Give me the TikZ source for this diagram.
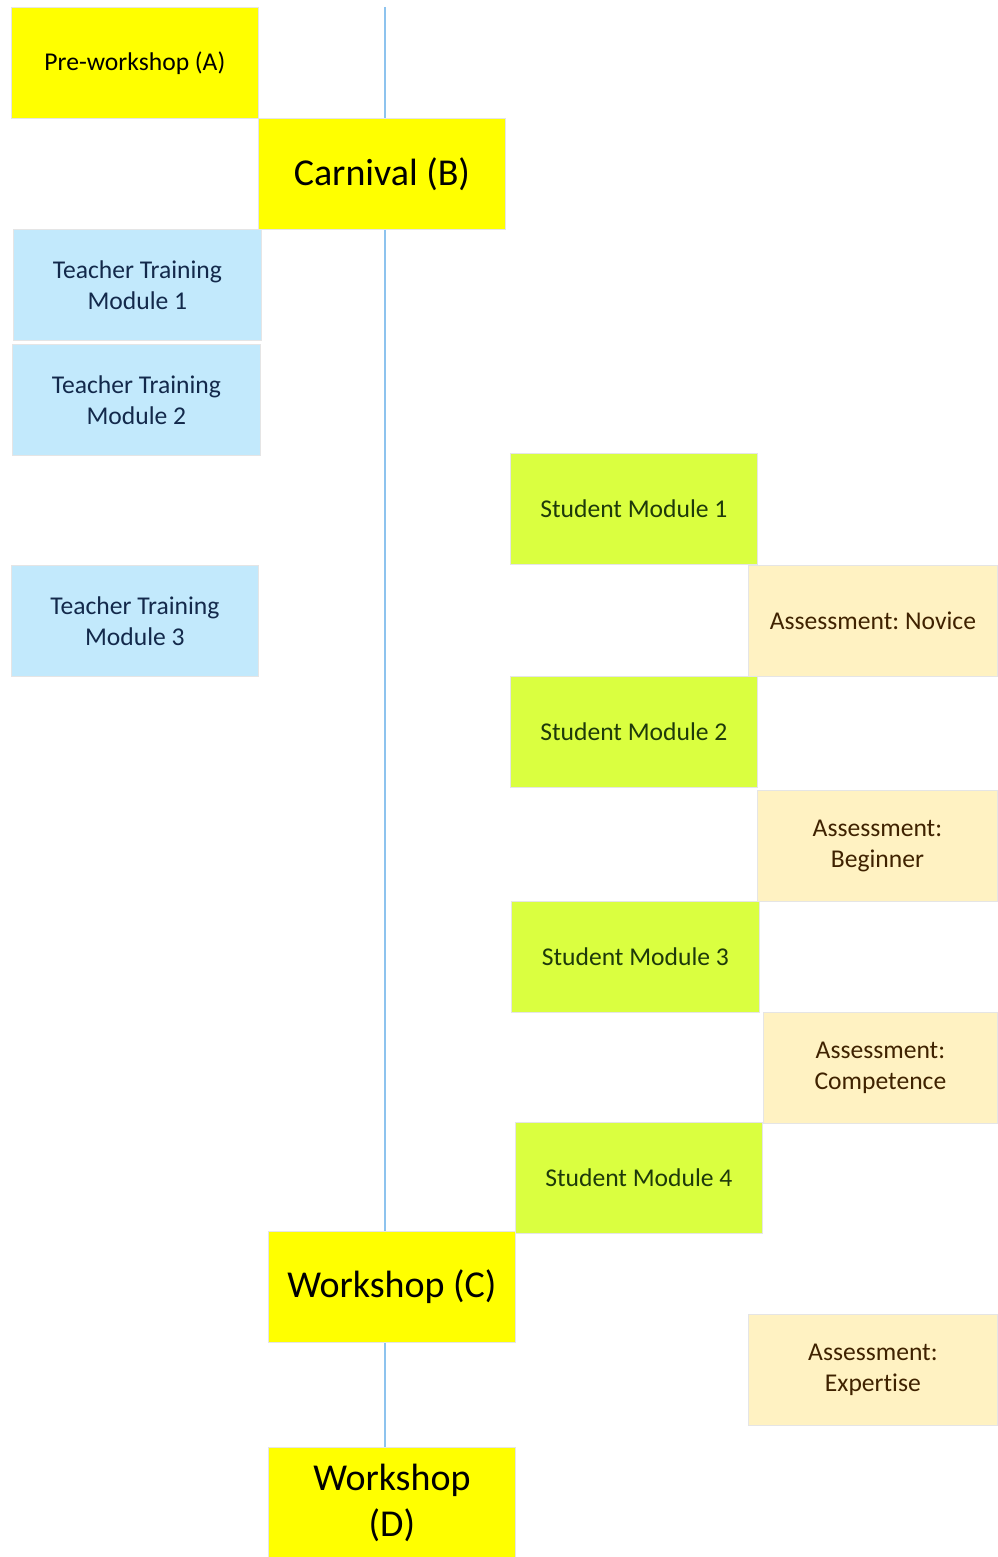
\documentclass[tikz,border=0pt]{standalone}
\usepackage{fontspec}
\setmainfont{Carlito}[Ligatures=NoCommon]
\frenchspacing
\definecolor{evyellow}{HTML}{FFFF00}
\definecolor{ttblue}{HTML}{C2E9FC}
\definecolor{smgreen}{HTML}{DAFF40}
\definecolor{ascream}{HTML}{FFF2C2}
\definecolor{ttink}{HTML}{13294B}
\definecolor{smink}{HTML}{1E3A0A}
\definecolor{asink}{HTML}{3F2200}
\definecolor{spine}{HTML}{8DC3EE}
\begin{document}
\begin{tikzpicture}[x=1pt,y=-1pt,
  card/.style={rectangle, anchor=north west, inner sep=0pt, draw=black!10, line width=0.8pt,
    minimum width=247pt, minimum height=111pt, align=center,
    font=\fontsize{25.6}{31.2}\selectfont},
  bigcard/.style={card, font=\fontsize{38}{46}\selectfont},
  event/.style={bigcard, fill=evyellow, text=black},
  teach/.style={card, fill=ttblue, text=ttink},
  stud/.style={card, fill=smgreen, text=smink},
  assess/.style={card, fill=ascream, text=asink},
  spineline/.style={draw=spine, line width=1.3pt}]
\useasboundingbox (0,0) rectangle (997,1557);
\fill[white] (0,0) rectangle (997,1557);

% timeline spine, drawn first so the cards sit on top of it
\coordinate (top) at (385,7);
\coordinate (bottom) at (385,1447);
\draw[spineline] (top) -- (bottom);

% events
\node[event, font=\fontsize{25.6}{31.2}\selectfont] (A) at (11,7) {Pre-workshop (A)};
\node[event] (B) at (258,118) {Carnival (B)};
\node[event] (C) at (268,1231) {Workshop (C)};
\node[event] (D) at (268,1447) {Workshop\\(D)};

% teacher training
\node[teach, minimum width=248pt] (T1) at (13,229) {Teacher Training\\Module 1};
\node[teach, minimum width=248pt] (T2) at (12,344) {Teacher Training\\Module 2};
\node[teach] (T3) at (11,565) {Teacher Training\\Module 3};

% student modules
\node[stud] (S1) at (510,453) {Student Module 1};
\node[stud] (S2) at (510,676) {Student Module 2};
\node[stud, minimum width=248pt] (S3) at (511,901) {Student Module 3};
\node[stud] (S4) at (515,1122) {Student Module 4};

% assessments
\node[assess, minimum width=249pt] (N) at (748,565) {Assessment: Novice};
\node[assess, minimum width=240pt] (Bg) at (757,790) {Assessment:\\Beginner};
\node[assess, minimum width=234pt] (Cp) at (763,1012) {Assessment:\\Competence};
\node[assess, minimum width=249pt] (E) at (748,1314) {Assessment:\\Expertise};
\end{tikzpicture}
\end{document}
